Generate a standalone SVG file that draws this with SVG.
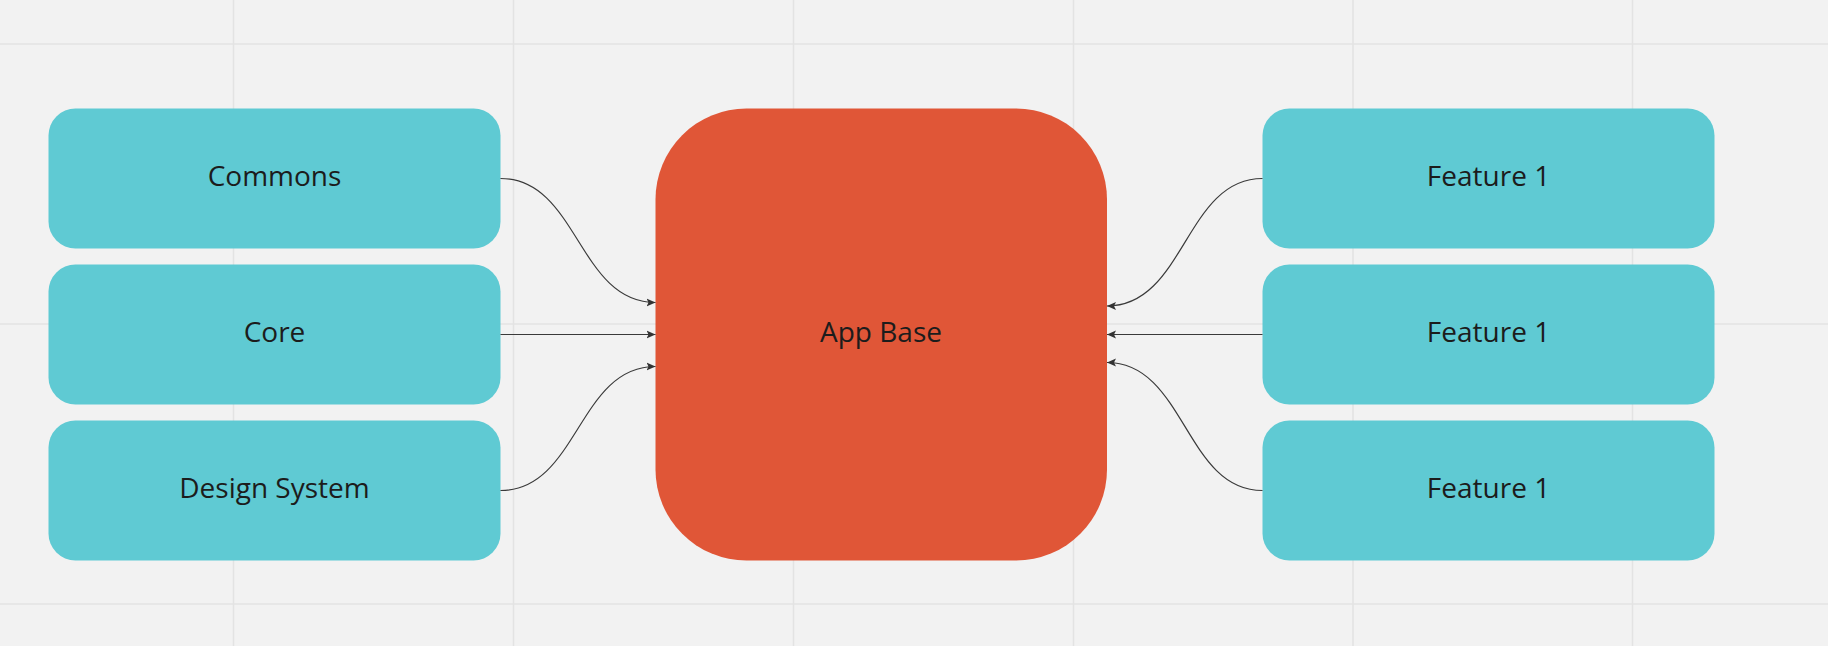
<svg xmlns="http://www.w3.org/2000/svg" width="1828" height="646" viewBox="0 0 1828 646">
<style>
.grid{stroke:#e3e3e3;stroke-width:1.6;fill:none}
.box{fill:#5fcad3}
.base{fill:#e05637}
.lbl{font-family:"Open Sans","Noto Sans",sans-serif;font-size:28px;fill:#1c1c1c;text-anchor:middle}
.conn{fill:none;stroke:#3a3a3a;stroke-width:1.2}
</style>
<defs>
<marker id="arr" markerUnits="userSpaceOnUse" markerWidth="10" markerHeight="10" refX="9" refY="4.5" orient="auto">
<path d="M0,0.5 L9,4.5 L0,8.5 L2,4.5 Z" fill="#333"/>
</marker>
</defs>
<rect width="1828" height="646" fill="#f2f2f2"/>
<g id="grid">
<line class="grid" x1="233.5" y1="0" x2="233.5" y2="646"/>
<line class="grid" x1="513.5" y1="0" x2="513.5" y2="646"/>
<line class="grid" x1="793.5" y1="0" x2="793.5" y2="646"/>
<line class="grid" x1="1073.5" y1="0" x2="1073.5" y2="646"/>
<line class="grid" x1="1353" y1="0" x2="1353" y2="646"/>
<line class="grid" x1="1632.5" y1="0" x2="1632.5" y2="646"/>
<line class="grid" x1="0" y1="44" x2="1828" y2="44"/>
<line class="grid" x1="0" y1="324" x2="1828" y2="324"/>
<line class="grid" x1="0" y1="604" x2="1828" y2="604"/>
</g>
<g id="commons"><rect class="box" x="48.5" y="108.5" width="452" height="140" rx="27"/><text class="lbl" x="274.5" y="185.5">Commons</text></g>
<g id="core"><rect class="box" x="48.5" y="264.5" width="452" height="140" rx="27"/><text class="lbl" x="274.5" y="341.5">Core</text></g>
<g id="design-system"><rect class="box" x="48.5" y="420.5" width="452" height="140" rx="27"/><text class="lbl" x="274.5" y="497.5">Design System</text></g>
<g id="app-base"><rect class="base" x="655.5" y="108.5" width="451.5" height="452" rx="91"/><text class="lbl" x="881" y="341.5">App Base</text></g>
<g id="feature-1a"><rect class="box" x="1262.5" y="108.5" width="452" height="140" rx="27"/><text class="lbl" x="1488.5" y="185.5">Feature 1</text></g>
<g id="feature-1b"><rect class="box" x="1262.5" y="264.5" width="452" height="140" rx="27"/><text class="lbl" x="1488.5" y="341.5">Feature 1</text></g>
<g id="feature-1c"><rect class="box" x="1262.5" y="420.5" width="452" height="140" rx="27"/><text class="lbl" x="1488.5" y="497.5">Feature 1</text></g>
<g id="connectors">
<path class="conn" d="M500.5,178.5 C578,178.5 578,302.5 655.5,302.5" marker-end="url(#arr)"/>
<path class="conn" d="M500.5,334.5 L655.5,334.5" marker-end="url(#arr)"/>
<path class="conn" d="M500.5,490.5 C578,490.5 578,366.5 655.5,366.5" marker-end="url(#arr)"/>
<path class="conn" d="M1262.5,178.5 C1185,178.5 1185,306 1107,306" marker-end="url(#arr)"/>
<path class="conn" d="M1262.5,334.5 L1107,334.5" marker-end="url(#arr)"/>
<path class="conn" d="M1262.5,490.5 C1185,490.5 1185,362.5 1107,362.5" marker-end="url(#arr)"/>
</g>
</svg>
